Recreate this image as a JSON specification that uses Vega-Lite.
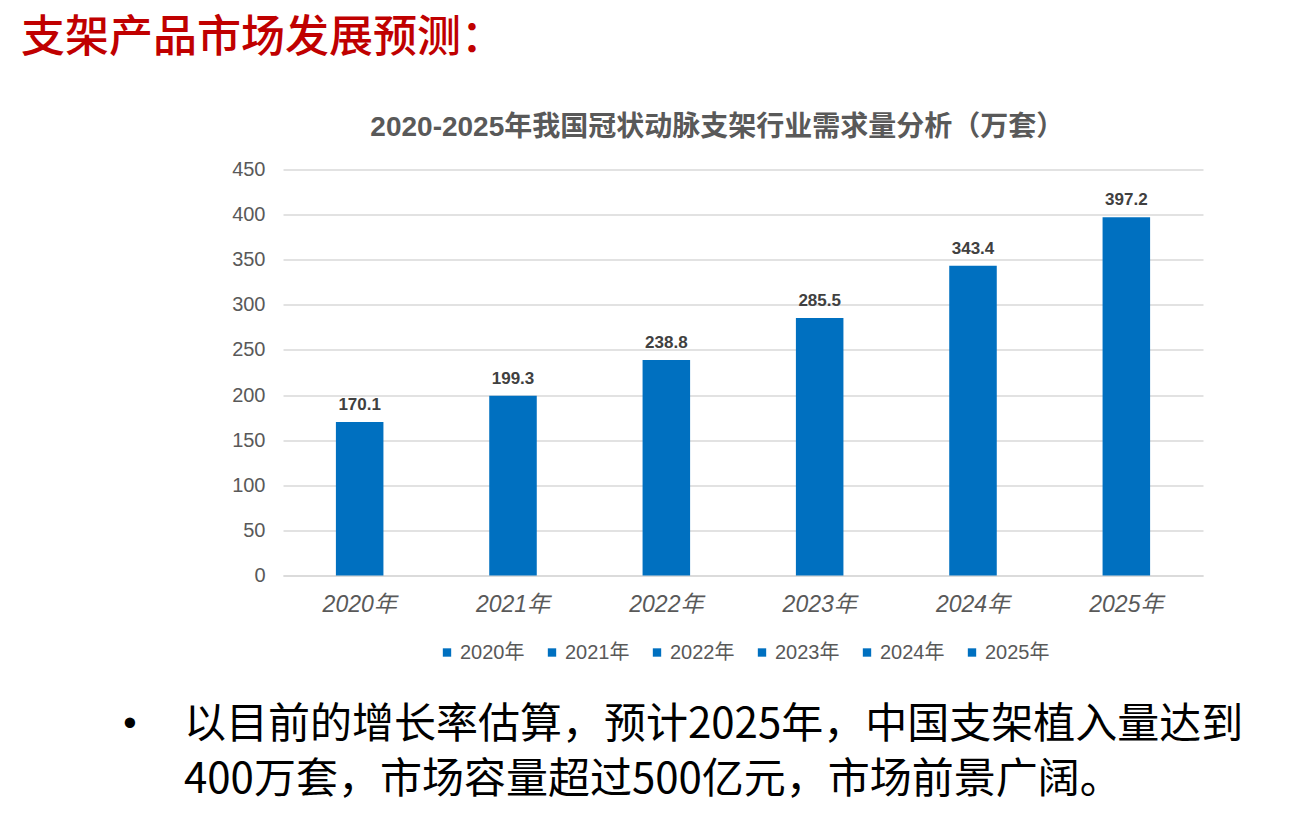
{
  "$schema": "https://vega.github.io/schema/vega-lite/v6.json",
  "autosize": {"type": "none"},
  "padding": {"left": 283, "top": 30, "right": 1014, "bottom": 797},
  "background": "white",
  "bounds": "flush",
  "spacing": 121.5,
  "resolve": {"scale": {"color": "independent"}, "legend": {"color": "independent"}},
  "config": {
    "view": {"stroke": null},
    "font": "Liberation Sans, Noto Sans CJK SC",
    "legend": {"layout": {"bottom": {"anchor": "middle"}}}
  },
  "datasets": {
    "demand": [
      {"year": "2020年", "value": 170.1},
      {"year": "2021年", "value": 199.3},
      {"year": "2022年", "value": 238.8},
      {"year": "2023年", "value": 285.5},
      {"year": "2024年", "value": 343.4},
      {"year": "2025年", "value": 397.2}
    ],
    "heading": [{"text": "支架产品市场发展预测："}],
    "bullets": [
      {"line": 1, "bullet": "•", "text": "以目前的增长率估算，预计2025年，中国支架植入量达到"},
      {"line": 2, "bullet": "", "text": "400万套，市场容量超过500亿元，市场前景广阔。"}
    ]
  },
  "vconcat": [
    {
      "width": 920,
      "height": 17.5,
      "data": {"name": "heading"},
      "mark": {"type": "text", "align": "left", "baseline": "middle", "dx": -722, "fontSize": 44, "font": "Noto Sans CJK SC", "fontWeight": 500, "color": "#C00000"},
      "encoding": {"text": {"field": "text"}}
    },
    {
      "width": 920,
      "height": 406,
      "data": {"name": "demand"},
      "title": {
        "text": "2020-2025年我国冠状动脉支架行业需求量分析（万套）",
        "fontSize": 28,
        "fontWeight": "bold",
        "color": "#595959",
        "anchor": "middle",
        "frame": "bounds",
        "offset": 18
      },
      "encoding": {
        "x": {
          "field": "year",
          "type": "nominal",
          "sort": null,
          "scale": {"paddingInner": 0.69, "paddingOuter": 0.345},
          "axis": {
            "title": null,
            "labelAngle": 0,
            "labelFontSize": 23,
            "labelFontStyle": "italic",
            "labelColor": "#595959",
            "labelPadding": 18,
            "ticks": false,
            "domainColor": "#d9d9d9",
            "domainWidth": 1.5
          }
        },
        "y": {
          "field": "value",
          "type": "quantitative",
          "scale": {"domain": [0, 450]},
          "axis": {
            "title": null,
            "values": [0, 50, 100, 150, 200, 250, 300, 350, 400, 450],
            "labelFontSize": 20,
            "labelColor": "#595959",
            "labelPadding": 18,
            "ticks": false,
            "domain": false,
            "gridColor": "#d9d9d9",
            "gridWidth": 1.5
          }
        }
      },
      "layer": [
        {
          "mark": {"type": "bar", "color": "#0070C0"},
          "encoding": {
            "color": {
              "field": "year",
              "type": "nominal",
              "sort": null,
              "scale": {"range": ["#0070C0", "#0070C0", "#0070C0", "#0070C0", "#0070C0", "#0070C0"]},
              "legend": {
                "title": null,
                "orient": "bottom",
                "direction": "horizontal",
                "symbolType": "square",
                "symbolSize": 70,
                "labelFontSize": 20,
                "labelColor": "#595959",
                "labelOffset": 3,
                "columnPadding": 17,
                "offset": 26
              }
            }
          }
        },
        {
          "mark": {"type": "text", "baseline": "bottom", "dy": -8, "fontSize": 17, "fontWeight": "bold", "color": "#404040"},
          "encoding": {"text": {"field": "value", "type": "quantitative", "format": ".1f"}}
        }
      ]
    },
    {
      "width": 920,
      "height": 110,
      "data": {"name": "bullets"},
      "encoding": {
        "y": {"field": "line", "type": "ordinal", "axis": null, "scale": {"type": "band", "paddingInner": 0, "paddingOuter": 0}}
      },
      "layer": [
        {
          "mark": {"type": "text", "align": "center", "baseline": "middle", "dx": -613, "fontSize": 38, "color": "#000000"},
          "encoding": {"text": {"field": "bullet"}}
        },
        {
          "mark": {"type": "text", "align": "left", "baseline": "middle", "dx": -559, "fontSize": 42, "font": "Noto Sans CJK SC", "color": "#000000"},
          "encoding": {"text": {"field": "text"}}
        }
      ]
    }
  ]
}
